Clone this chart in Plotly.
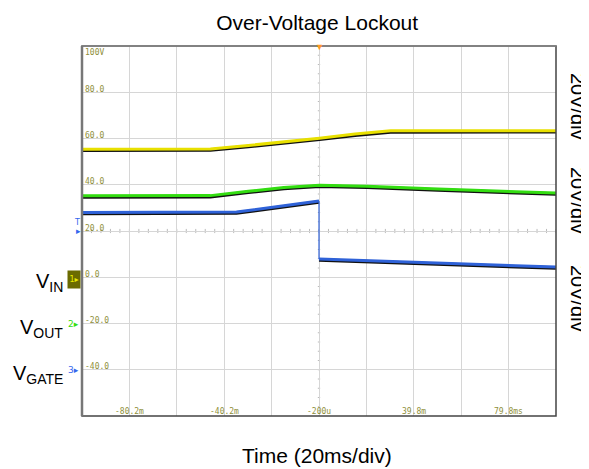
import plotly.graph_objects as go

# ---- data (time in ms, volts on screen scale) ----
t_vin = [-100.2, -46.0, -30.0, -15.0, 0.0, 15.0, 30.0, 99.8]
v_vin = [55.4, 55.5, 57.0, 58.5, 60.1, 61.9, 63.3, 63.4]

t_vout = [-100.2, -46.0, -30.0, -15.0, 0.0, 20.0, 50.0, 99.8]
v_vout = [35.2, 35.3, 37.2, 38.8, 39.8, 39.4, 38.2, 36.4]

t_gate_pre = [-100.2, -35.0, -0.2]
v_gate_pre = [28.0, 28.2, 33.0]
t_gate_post = [-0.2, 99.8]
v_gate_post = [7.9, 4.4]

x_tick_vals = [-80.2, -40.2, -0.2, 39.8, 79.8]
x_tick_text = ["-80.2m", "-40.2m", "-200u", "39.8m", "79.8ms"]
y_tick_vals = [100, 80, 60, 40, 20, 0, -20, -40]
y_tick_text = ["100V", "80.0", "60.0", "40.0", "20.0", "0.0", "-20.0", "-40.0"]

ch_names = ["V<sub>IN</sub>", "V<sub>OUT</sub>", "V<sub>GATE</sub>"]
ch_levels = [0, -20, -40]
scale_text = ["20V/div", "20V/div", "20V/div"]
x_title = "Time (20ms/div)"
chart_title = "Over-Voltage Lockout"

X0, X1 = -100.2, 99.8
Y0, Y1 = -60, 100

fig = go.Figure()

def trace(t, v, color, w, shadow=True):
    if shadow:
        fig.add_trace(go.Scatter(x=t, y=[vv - 0.45 for vv in v], mode="lines",
                                 line=dict(color="#111111", width=w + 0.5),
                                 hoverinfo="skip", showlegend=False))
    fig.add_trace(go.Scatter(x=t, y=v, mode="lines",
                             line=dict(color=color, width=w),
                             hoverinfo="skip", showlegend=False))

trace(t_vin, v_vin, "#e8e000", 3)
trace(t_vout, v_vout, "#33dd11", 3)
trace(t_gate_pre, v_gate_pre, "#2f62d8", 3)
fig.add_trace(go.Scatter(x=[t_gate_pre[-1], t_gate_post[0]], y=[v_gate_pre[-1], v_gate_post[0]],
                         mode="lines", line=dict(color="#2f62d8", width=1.2),
                         hoverinfo="skip", showlegend=False))
trace(t_gate_post, v_gate_post, "#2f62d8", 3)

shapes = []
# minor ticks along centre lines
xc, yc = -0.2, 20
k = X0
while k <= X1 + 1e-6:
    shapes.append(dict(type="line", xref="x", yref="y", x0=k, x1=k, y0=yc - 0.9, y1=yc + 0.9,
                       line=dict(color="#bbbbbb", width=1), layer="below"))
    k += 4
k = Y0
while k <= Y1 + 1e-6:
    shapes.append(dict(type="line", xref="x", yref="y", x0=xc - 0.5, x1=xc + 0.5, y0=k, y1=k,
                       line=dict(color="#bbbbbb", width=1), layer="below"))
    k += 4
# frame
shapes.append(dict(type="rect", xref="paper", yref="paper", x0=0, x1=1, y0=0, y1=1,
                   line=dict(color="#444444", width=1.5)))
shapes.append(dict(type="line", xref="paper", yref="paper", x0=0, x1=1, y0=1, y1=1,
                   line=dict(color="#888888", width=1.5)))
shapes.append(dict(type="line", xref="paper", yref="paper", x0=0, x1=0, y0=0, y1=1,
                   line=dict(color="#777777", width=2.5)))

annotations = []
for v, txt in zip(x_tick_vals, x_tick_text):
    annotations.append(dict(x=v, y=Y0, xref="x", yref="y", text=txt, showarrow=False,
                            yanchor="bottom", xanchor="center", yshift=-2,
                            font=dict(family="DejaVu Sans Mono", size=8, color="#8f8f3a")))
for v, txt in zip(y_tick_vals, y_tick_text):
    top = v == Y1
    annotations.append(dict(x=X0, y=v, xref="x", yref="y", text=txt, showarrow=False,
                            yanchor="top" if top else "bottom", xanchor="left", xshift=1,
                            yshift=0 if top else -3.5,
                            font=dict(family="DejaVu Sans Mono", size=8, color="#8f8f3a")))
# channel names
for name, lv in zip(ch_names, ch_levels):
    annotations.append(dict(x=0, y=lv, xref="paper", yref="y", text=name, showarrow=False,
                            xanchor="right", yanchor="middle", xshift=-17, yshift=-5,
                            font=dict(family="Arial, Liberation Sans", size=20, color="#000000")))
# channel markers
annotations.append(dict(x=0, y=ch_levels[0], xref="paper", yref="y", text="1▸", showarrow=False,
                        xanchor="right", yanchor="middle", xshift=-1, yshift=-2,
                        width=10, height=15, bgcolor="#6b6b00", borderpad=1,
                        font=dict(family="DejaVu Sans", size=8, color="#e8e800")))
annotations.append(dict(x=0, y=ch_levels[1], xref="paper", yref="y", text="2▸", showarrow=False,
                        xanchor="right", yanchor="middle", xshift=-1,
                        font=dict(family="DejaVu Sans", size=9, color="#33dd11")))
annotations.append(dict(x=0, y=ch_levels[2], xref="paper", yref="y", text="3▸", showarrow=False,
                        xanchor="right", yanchor="middle", xshift=-1,
                        font=dict(family="DejaVu Sans", size=9, color="#3366ee")))
annotations.append(dict(x=0, y=20, xref="paper", yref="y", text="T", showarrow=False,
                        xanchor="right", yanchor="bottom", xshift=0, yshift=2,
                        font=dict(family="DejaVu Sans", size=8, color="#3366ee")))
annotations.append(dict(x=0, y=20, xref="paper", yref="y", text="▸", showarrow=False,
                        xanchor="right", yanchor="middle", xshift=1,
                        font=dict(family="DejaVu Sans", size=9, color="#3366ee")))
# trigger position marker
annotations.append(dict(x=-0.2, y=1, xref="x", yref="paper", text="▼", showarrow=False,
                        yanchor="middle", font=dict(size=9, color="#ff9922")))
# volts/div labels
for txt, yy in zip(scale_text, [0.838, 0.584, 0.319]):
    annotations.append(dict(x=1, y=yy, xref="paper", yref="paper", text=txt, showarrow=False,
                            textangle=90, xanchor="center", yanchor="middle", xshift=22,
                            font=dict(family="Arial, Liberation Sans", size=20, color="#000000")))
# x-axis title
annotations.append(dict(x=0.496, y=0, xref="paper", yref="paper", text=x_title, showarrow=False,
                        xanchor="center", yanchor="middle", yshift=-39,
                        font=dict(family="Arial, Liberation Sans", size=21, color="#000000")))

# page body has an 8px margin, so the figure is 8px smaller and margins shifted
fig.update_layout(
    width=581, height=461,
    margin=dict(l=74, r=33, t=38, b=53, autoexpand=False),
    paper_bgcolor="white", plot_bgcolor="white",
    title=dict(text=chart_title, xref="paper", x=0.496, xanchor="center",
               yref="container", y=0.985, yanchor="top",
               font=dict(family="Arial, Liberation Sans", size=21, color="#000000")),
    xaxis=dict(range=[X0, X1], tick0=X0, dtick=20, showgrid=True, gridcolor="#d6d6d6",
               gridwidth=1, zeroline=False, showticklabels=False, ticks="", automargin=False),
    yaxis=dict(range=[Y0, Y1], tick0=Y0, dtick=20, showgrid=True, gridcolor="#d6d6d6",
               gridwidth=1, zeroline=False, showticklabels=False, ticks="", automargin=False),
    shapes=shapes, annotations=annotations, showlegend=False,
)

fig.write_html("out.html")
